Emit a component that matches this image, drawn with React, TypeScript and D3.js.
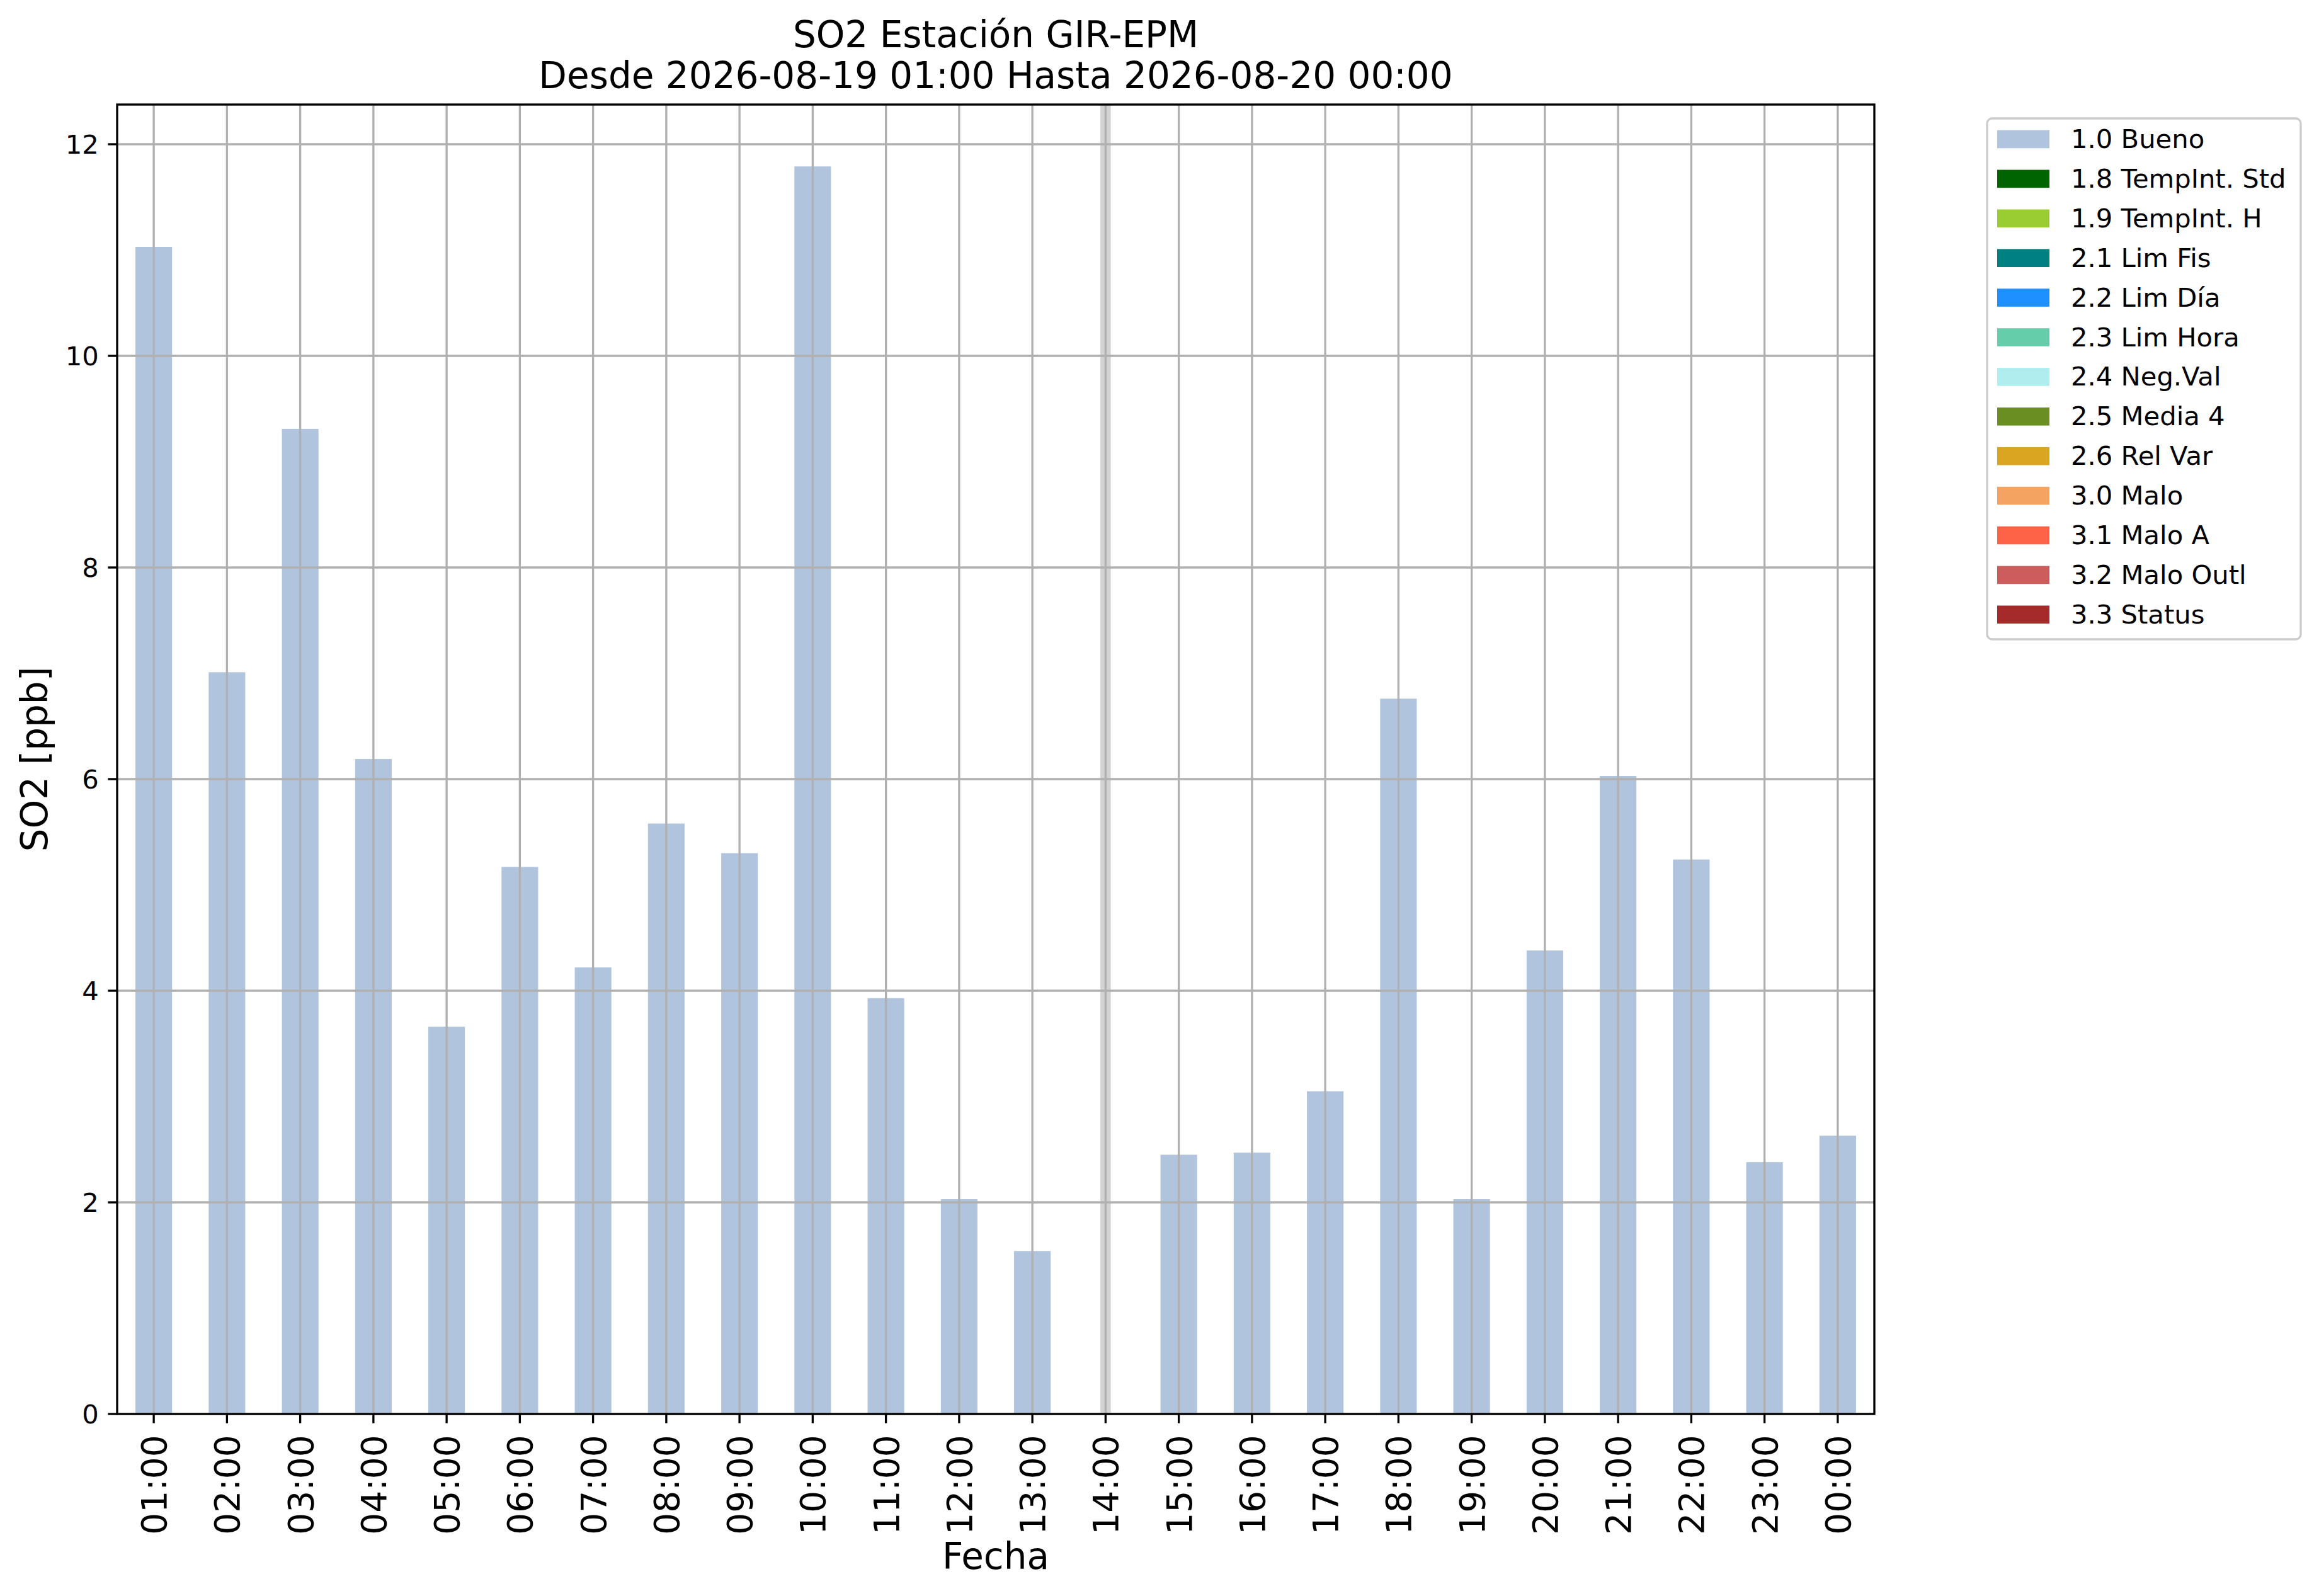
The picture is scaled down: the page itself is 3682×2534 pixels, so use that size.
import { useEffect, useRef } from "react"
import * as d3 from "d3"

// Horas del día (eje X)
const hours = [
  "01:00", "02:00", "03:00", "04:00", "05:00", "06:00", "07:00", "08:00",
  "09:00", "10:00", "11:00", "12:00", "13:00", "14:00", "15:00", "16:00",
  "17:00", "18:00", "19:00", "20:00", "21:00", "22:00", "23:00", "00:00",
]

// SO2 [ppb], 14:00 sin dato
const so2Values: (number | null)[] = [
  11.03, 7.01, 9.31, 6.19, 3.66, 5.17, 4.22, 5.58, 5.3, 11.79, 3.93, 2.03,
  1.54, null, 2.45, 2.47, 3.05, 6.76, 2.03, 4.38, 6.03, 5.24, 2.38, 2.63,
]

// Horas marcadas como faltantes
const missingHours = ["14:00"]

const yTicks = [0, 2, 4, 6, 8, 10, 12]

// Leyenda de banderas de calidad
const flagLabels = [
  "1.0 Bueno", "1.8 TempInt. Std", "1.9 TempInt. H", "2.1 Lim Fis", "2.2 Lim Día",
  "2.3 Lim Hora", "2.4 Neg.Val", "2.5 Media 4", "2.6 Rel Var", "3.0 Malo",
  "3.1 Malo A", "3.2 Malo Outl", "3.3 Status",
]
const flagColors = [
  "#b0c4de", "#006400", "#9acd32", "#008080", "#1e90ff", "#66cdaa", "#afeeee",
  "#6b8e23", "#daa520", "#f4a460", "#ff6347", "#cd5c5c", "#a52a2a",
]

const titleLines = ["SO2 Estación GIR-EPM", "Desde 2026-08-19 01:00 Hasta 2026-08-20 00:00"]

export default function App() {
  const svgRef = useRef<SVGSVGElement>(null)

  useEffect(() => {
    if (!svgRef.current) return
    const root = d3.select(svgRef.current)
    root.selectAll("*").remove()

    const font = "DejaVu Sans"
    const lw = 3.33
    const tickLen = 14.6
    const left = 186, right = 2976, top = 166, bottom = 2245
    const cx = (left + right) / 2

    const x = d3.scaleBand<string>().domain(hours).range([left, right])
      .paddingInner(0.5).paddingOuter(0.25)
    const y = d3.scaleLinear().domain([0, 12.375]).range([bottom, top])
    const xc = (h: string) => (x(h) ?? 0) + x.bandwidth() / 2

    const svg = root.append("g").attr("font-family", font)

    // Banda gris de dato faltante
    svg.selectAll(".missing").data(missingHours).enter().append("rect")
      .attr("x", (d) => xc(d) - 8.3).attr("width", 16.6)
      .attr("y", top).attr("height", bottom - top)
      .attr("fill", "#d3d3d3")

    // Barras
    const bars = hours.map((h, i) => ({ h, v: so2Values[i] })).filter((d) => d.v != null)
    svg.selectAll(".bar").data(bars).enter().append("rect")
      .attr("x", (d) => x(d.h) ?? 0).attr("width", x.bandwidth())
      .attr("y", (d) => y(d.v as number)).attr("height", (d) => bottom - y(d.v as number))
      .attr("fill", "#b0c4de")

    // Rejilla
    const grid = svg.append("g").attr("stroke", "#b0b0b0").attr("stroke-width", lw)
    grid.selectAll(".gx").data(hours).enter().append("line")
      .attr("x1", xc).attr("x2", xc).attr("y1", top).attr("y2", bottom)
    grid.selectAll(".gy").data(yTicks).enter().append("line")
      .attr("x1", left).attr("x2", right).attr("y1", (d) => y(d)).attr("y2", (d) => y(d))

    // Marco
    svg.append("rect").attr("x", left).attr("y", top)
      .attr("width", right - left).attr("height", bottom - top)
      .attr("fill", "none").attr("stroke", "#000").attr("stroke-width", lw)

    // Eje Y
    const ya = svg.append("g")
    ya.selectAll("line").data(yTicks).enter().append("line")
      .attr("x1", left - tickLen).attr("x2", left)
      .attr("y1", (d) => y(d)).attr("y2", (d) => y(d))
      .attr("stroke", "#000").attr("stroke-width", lw)
    ya.selectAll("text").data(yTicks).enter().append("text")
      .attr("x", left - 2 * tickLen).attr("y", (d) => y(d) + 15)
      .attr("text-anchor", "end").attr("font-size", 41.7).text((d) => d)

    // Eje X
    const xa = svg.append("g")
    xa.selectAll("line").data(hours).enter().append("line")
      .attr("x1", xc).attr("x2", xc).attr("y1", bottom).attr("y2", bottom + tickLen)
      .attr("stroke", "#000").attr("stroke-width", lw)
    xa.selectAll("text").data(hours).enter().append("text")
      .attr("transform", (d) => `translate(${xc(d) + 20},${bottom + 2 * tickLen + 4}) rotate(-90)`)
      .attr("text-anchor", "end").attr("font-size", 55).text((d) => d)

    // Etiquetas de ejes
    svg.append("text").attr("x", cx).attr("y", 2491).attr("text-anchor", "middle")
      .attr("font-size", 58).text("Fecha")
    svg.append("text").attr("transform", `translate(75,${(top + bottom) / 2}) rotate(-90)`)
      .attr("text-anchor", "middle").attr("font-size", 58).text("SO2 [ppb]")

    // Título
    svg.selectAll(".title").data(titleLines).enter().append("text")
      .attr("x", cx).attr("y", (_, i) => 75 + i * 65).attr("text-anchor", "middle")
      .attr("font-size", 58).text((d) => d)

    // Leyenda
    const lg = svg.append("g")
    lg.append("rect").attr("x", 3155).attr("y", 188).attr("width", 498).attr("height", 827)
      .attr("rx", 8).attr("fill", "#fff").attr("stroke", "#cccccc").attr("stroke-width", lw)
    const row = lg.selectAll(".row").data(flagLabels).enter().append("g")
      .attr("transform", (_, i) => `translate(0,${221 + i * 62.9})`)
    row.append("rect").attr("x", 3171).attr("y", -14.3).attr("width", 83).attr("height", 28.6)
      .attr("fill", (_, i) => flagColors[i])
    row.append("text").attr("x", 3288).attr("y", 14).attr("font-size", 41.7).text((d) => d)
  }, [])

  return (
    <svg
      ref={svgRef}
      width={3682}
      height={2534}
      style={{ position: "absolute", left: 0, top: 0, background: "#fff" }}
    />
  )
}
